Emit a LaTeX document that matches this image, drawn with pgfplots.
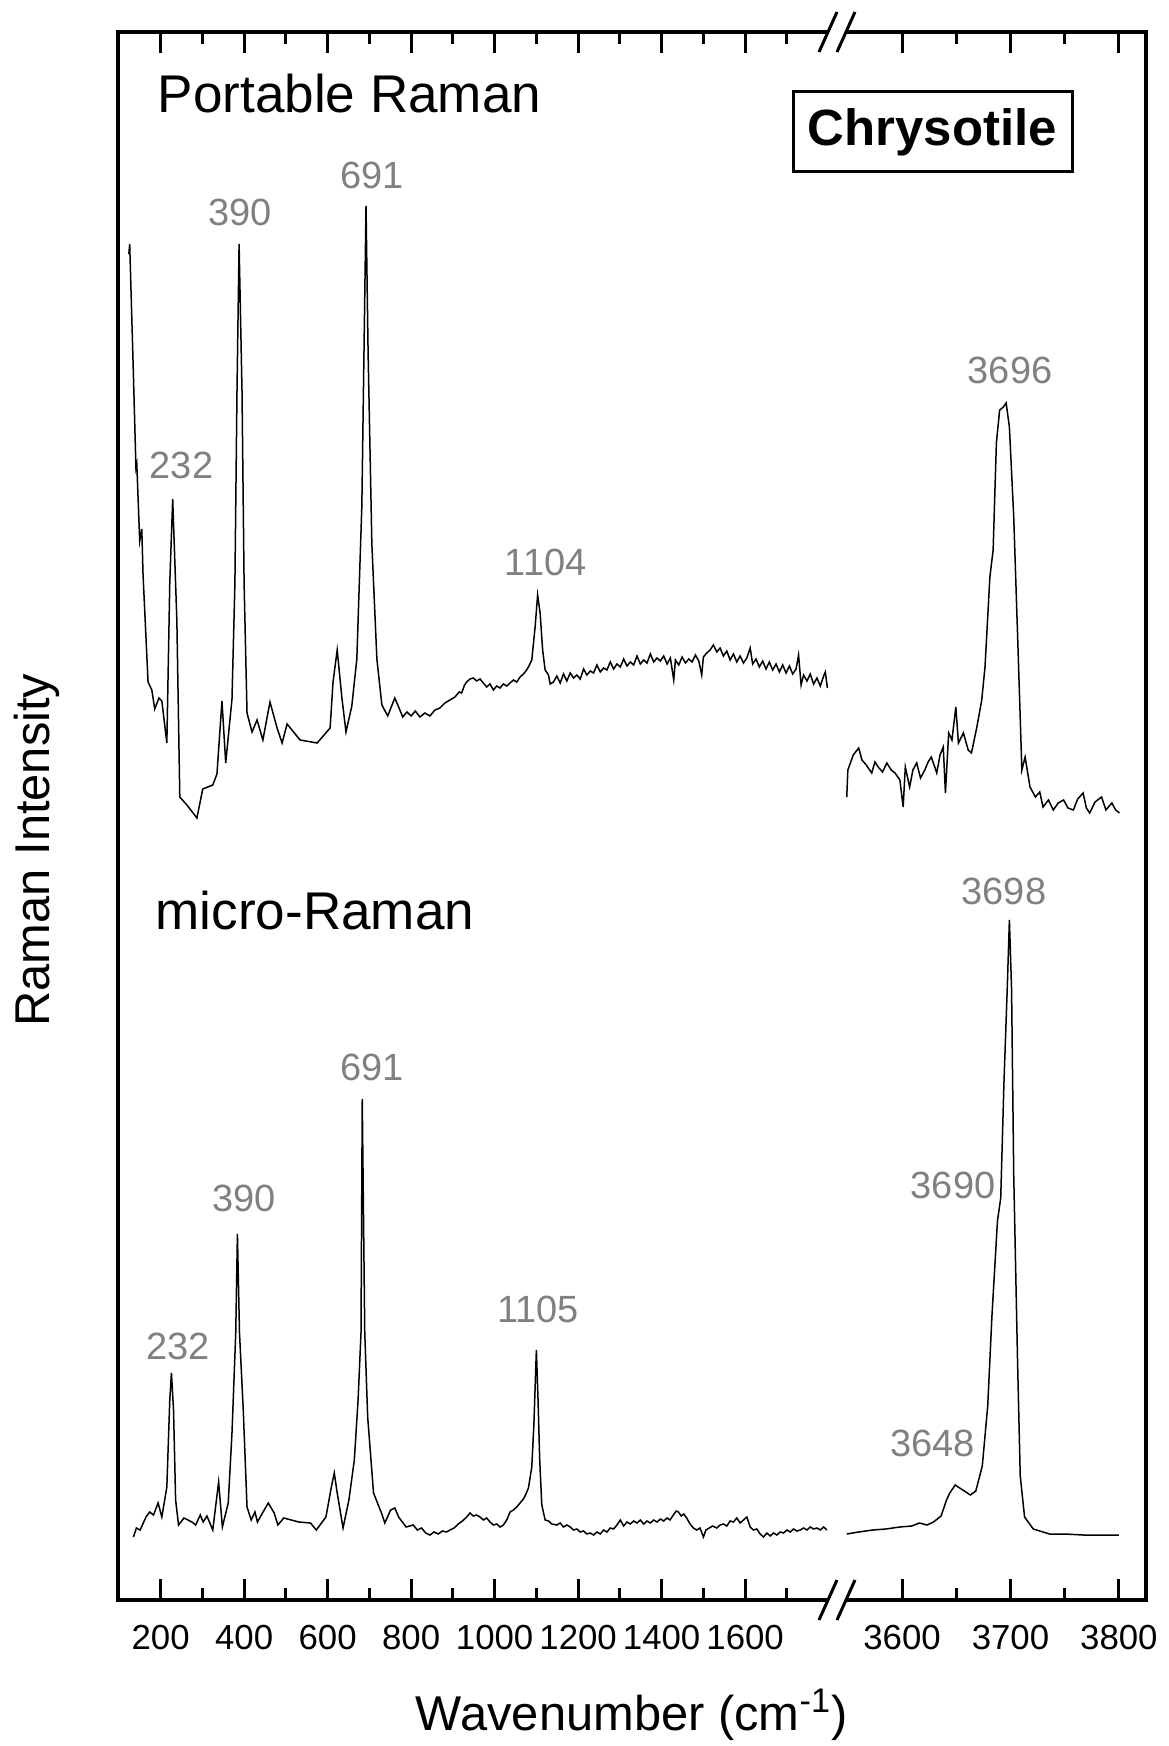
\documentclass[border=0pt]{standalone}
\usepackage{fontspec}
\setmainfont{Liberation Sans}
\usepackage{pgfplots}
\pgfplotsset{compat=1.18}

\definecolor{lblgray}{RGB}{128,128,128}

\pgfplotsset{
  brk/.style={
    scale only axis,
    height=156.8mm,
    ymin=0, ymax=1568,
    ytick=\empty,
    axis line style={draw=none},
    tick align=inside,
    major tick length=2.1mm,
    minor tick length=1.2mm,
    tick style={black, line width=0.3mm},
    xticklabel style={font=\fontsize{9.9}{12}\selectfont, anchor=center, yshift=-3.8mm},
    /pgf/number format/assume math mode=true,
    /pgf/number format/1000 sep={},
    clip=false,
  },
  spec/.style={black, line width=0.15mm, no marks},
}
\tikzset{lbl/.style={text=lblgray, font=\fontsize{10.8}{13}\selectfont}}

\begin{document}
\begin{tikzpicture}
\useasboundingbox (-11.8mm,-14.6mm) rectangle (105.1mm,160mm);

% left part 100-1800
\begin{axis}[brk, width=71.9mm, xmin=98, xmax=1820,
  xtick={200,400,...,1600}, minor xtick={300,500,...,1700}]
% portable Raman
\addplot[spec] coordinates {
(124,1346) (126,1356) (134,1239) (141,1132) (143,1136) (150,1059) (155,1071) (158,1025)
(170,918) (179,910) (186,891) (196,902) (203,899) (215,857) (222,1017) (229,1101)
(239,979) (246,803) (263,795) (287,782) (301,811) (325,815) (335,826) (347,899)
(356,837) (371,901) (378,1017) (383,1209) (388,1356) (395,1209) (400,1017) (407,887)
(419,868) (431,880) (445,860) (462,898) (479,872) (491,857) (503,876) (534,860)
(575,857) (606,872) (613,918) (623,950) (634,903) (644,868) (658,894) (670,941)
(682,1094) (692,1394) (697,1247) (706,1056) (718,941) (730,895) (744,884) (761,902)
(780,883) (790,888) (800,884) (810,889) (821,883) (833,887) (845,884) (857,890)
(869,892) (881,897) (893,900) (905,903) (915,908) (921,907) (928,915) (933,918)
(941,921) (949,922) (957,919) (965,921) (973,917) (981,913) (989,916) (997,910)
(1005,914) (1013,912) (1021,916) (1029,914) (1037,917) (1045,920) (1053,918)
(1061,923) (1069,926) (1075,929) (1081,933) (1089,940) (1097,973) (1103,1005)
(1109,987) (1115,950) (1121,930) (1129,925) (1133,916) (1141,918) (1149,924)
(1157,917) (1165,926) (1173,919) (1181,927) (1189,922) (1197,925) (1205,921)
(1213,931) (1221,925) (1229,929) (1237,927) (1245,935) (1253,928) (1261,932)
(1269,930) (1277,938) (1285,931) (1293,936) (1301,933) (1309,941) (1317,934)
(1325,938) (1333,935) (1341,944) (1349,936) (1357,940) (1365,937) (1373,946)
(1381,938) (1389,942) (1397,939) (1405,944) (1413,936) (1421,942) (1429,920)
(1433,940) (1441,935) (1449,943) (1457,937) (1465,941) (1473,938) (1481,945)
(1489,939) (1496,925) (1500,943) (1508,947) (1516,950) (1524,955) (1532,948)
(1540,952) (1548,944) (1556,949) (1564,940) (1572,946) (1580,938) (1588,944)
(1596,937) (1604,942) (1612,952) (1618,936) (1626,941) (1634,933) (1642,939)
(1650,931) (1658,938) (1666,930) (1674,936) (1682,928) (1690,935) (1698,927)
(1706,934) (1714,926) (1722,931) (1728,945) (1734,915) (1740,925) (1748,919)
(1756,926) (1764,916) (1772,922) (1780,914) (1788,924) (1792,928) (1797,912)
};
% micro-Raman
\addplot[spec] coordinates {
(135,63) (142,72) (151,70) (165,83) (174,88) (183,85) (194,97) (203,83) (215,113)
(222,200) (226,227) (231,190) (236,100) (243,75) (256,82) (275,78) (284,75) (295,85)
(302,78) (311,84) (325,70) (339,118) (348,73) (362,97) (371,167) (380,267) (384,366)
(389,267) (398,190) (407,93) (417,80) (426,88) (432,78) (444,87) (458,97) (472,87)
(481,75) (495,82) (531,78) (559,77) (573,70) (596,83) (609,113) (616,127) (623,107)
(637,72) (651,100) (664,140) (673,200) (680,267) (683,501) (689,267) (696,183)
(710,107) (729,87) (737,77) (751,90) (761,92) (770,83) (788,73) (805,75) (815,70)
(825,72) (835,67) (845,65) (855,68) (865,66) (875,69) (885,68) (893,70) (903,72)
(913,76) (923,79) (933,83) (941,87) (949,84) (957,85) (965,83) (973,80) (981,82)
(989,78) (997,75) (1005,76) (1013,73) (1021,75) (1029,80) (1037,88) (1045,90)
(1053,93) (1061,97) (1069,101) (1075,106) (1081,112) (1089,133) (1094,175)
(1100,250) (1104,200) (1108,140) (1113,95) (1121,80) (1129,79) (1137,76) (1149,75)
(1157,77) (1165,73) (1173,75) (1181,73) (1189,70) (1197,71) (1205,68) (1213,69)
(1221,66) (1229,67) (1237,65) (1245,68) (1253,66) (1261,70) (1269,68) (1277,72)
(1285,71) (1293,75) (1301,80) (1309,74) (1317,78) (1325,76) (1333,79) (1341,77)
(1349,80) (1357,76) (1365,79) (1373,77) (1381,80) (1389,78) (1397,81) (1405,79)
(1413,82) (1420,80) (1428,85) (1435,89) (1440,88) (1447,84) (1453,86) (1460,82)
(1468,76) (1476,72) (1484,70) (1492,72) (1500,63) (1506,70) (1514,72) (1522,74)
(1532,72) (1540,75) (1548,76) (1556,74) (1564,79) (1572,78) (1580,82) (1588,77)
(1596,80) (1604,83) (1612,73) (1620,70) (1628,71) (1636,66) (1644,63) (1652,67)
(1660,64) (1668,67) (1676,65) (1684,68) (1692,67) (1700,70) (1708,68) (1716,71)
(1724,69) (1732,70) (1740,72) (1748,70) (1756,73) (1764,71) (1772,72) (1780,70)
(1788,73) (1796,70)
};
\node[lbl] at (axis cs:250,1135) {232};
\node[lbl] at (axis cs:391,1388) {390};
\node[lbl] at (axis cs:706,1425) {691};
\node[lbl] at (axis cs:1122,1038) {1104};
\node[lbl] at (axis cs:241,254) {232};
\node[lbl] at (axis cs:400,402) {390};
\node[lbl] at (axis cs:706,533) {691};
\node[lbl] at (axis cs:1104,291) {1105};
% frame and break marks
\draw[line width=0.35mm, line join=miter]
  ([xshift=-0.9mm]rel axis cs:1,0) -- (rel axis cs:0,0) -- (rel axis cs:0,1) -- ([xshift=-0.9mm]rel axis cs:1,1);
\draw[line width=0.3mm] ([xshift=-1.8mm,yshift=-2mm]rel axis cs:1,0) -- ([yshift=2mm]rel axis cs:1,0);
\draw[line width=0.3mm] ([yshift=-2mm]rel axis cs:1,0) -- ([xshift=1.8mm,yshift=2mm]rel axis cs:1,0);
\draw[line width=0.3mm] ([xshift=-1.8mm,yshift=-2mm]rel axis cs:1,1) -- ([yshift=2mm]rel axis cs:1,1);
\draw[line width=0.3mm] ([yshift=-2mm]rel axis cs:1,1) -- ([xshift=1.8mm,yshift=2mm]rel axis cs:1,1);
\end{axis}

% right part 3550-3800
\begin{axis}[brk, at={(71.9mm,0)}, width=30.9mm, xmin=3540, xmax=3825,
  xtick={3600,3700,3800}, minor xtick={3650,3750}]
\addplot[spec] coordinates {
(3549,803) (3550,830) (3555,845) (3560,852) (3563,840) (3567,835) (3572,827) (3575,838)
(3578,833) (3582,828) (3586,837) (3590,830) (3593.5,827) (3598,820) (3601,793)
(3603,833) (3607,813) (3610,830) (3613.5,837) (3617,822) (3621,830) (3624,838)
(3627,843) (3632,827) (3635,845) (3638,853) (3640,807) (3643,867) (3646,860)
(3649.6,893) (3652,857) (3656.6,867) (3661,850) (3664,847) (3669,873) (3673.5,900)
(3676.5,933) (3681,1023) (3684,1050) (3687,1157) (3690,1190) (3693.5,1193) (3696,1197)
(3699,1173) (3703,1083) (3707,950) (3710.5,830) (3713.5,843) (3718,813) (3723,803)
(3727,808) (3730,793) (3735,800) (3739.5,790) (3744,797) (3749,800) (3753,792)
(3758,790) (3762,801) (3767,807) (3770,792) (3773,787) (3778,798) (3784,803)
(3788,790) (3793.5,797) (3797,790) (3800.5,787)
};
\addplot[spec] coordinates {
(3549,66) (3560,68) (3573,70) (3585,71) (3598,73) (3609,74) (3616,77) (3623,75)
(3629,78) (3636,84) (3641,100) (3644,107) (3649,115) (3656,110) (3663,105) (3668,109)
(3674,134) (3679,194) (3683,286) (3688,379) (3691,402) (3694,518) (3697,611) (3699,680)
(3701,611) (3703,425) (3706.5,240) (3709,124) (3713,83) (3721,71) (3736,66) (3750,66)
(3767,65) (3785,65) (3800,65)
};
\node[lbl] at (axis cs:3699.6,1230) {3696};
\node[lbl] at (axis cs:3694,709) {3698};
\node[lbl] at (axis cs:3647,415) {3690};
\node[lbl] at (axis cs:3628,157) {3648};
\draw[line width=0.35mm, line join=miter]
  ([xshift=0.9mm]rel axis cs:0,0) -- (rel axis cs:1,0) -- (rel axis cs:1,1) -- ([xshift=0.9mm]rel axis cs:0,1);
\end{axis}

\node[anchor=base west, inner sep=0pt, font=\fontsize{15.1}{18}\selectfont] at (3.9mm,148.7mm) {Portable Raman};
\node[anchor=base west, inner sep=0pt, font=\fontsize{15.1}{18}\selectfont] at (3.7mm,67mm) {micro-Raman};
\node[draw, line width=0.3mm, minimum width=27.9mm, minimum height=8mm, inner sep=0pt,
  font=\bfseries\fontsize{14.5}{17}\selectfont] at (81.45mm,146.8mm) {Chrysotile};
\node[anchor=base, font=\fontsize{13.9}{16}\selectfont] at (51.4mm,-13.1mm) {Wavenumber (cm\textsuperscript{-1})};
\node[rotate=90, anchor=base, font=\fontsize{13.9}{16}\selectfont] at (-6.8mm,75mm) {Raman Intensity};
\end{tikzpicture}
\end{document}
